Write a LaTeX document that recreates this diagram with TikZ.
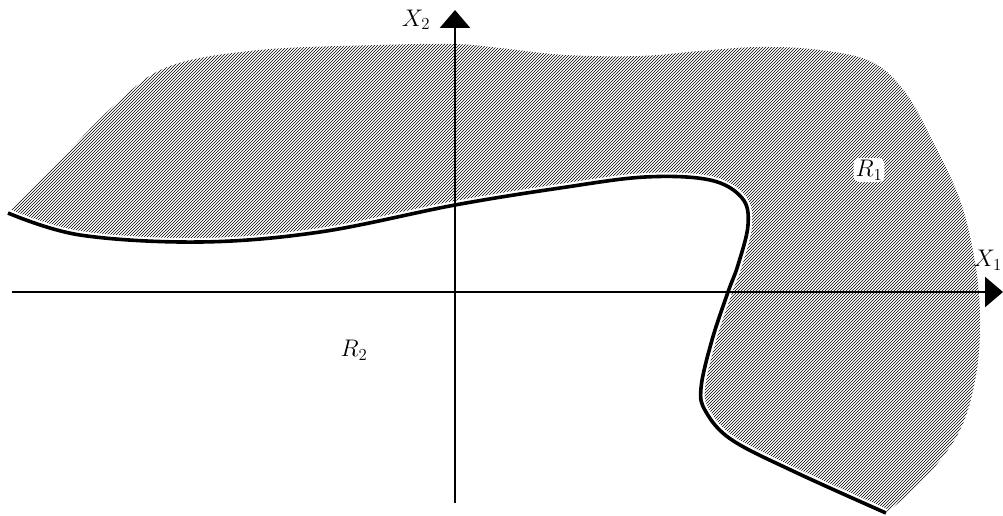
\documentclass[tikz,border=0pt]{standalone}
\usepackage{fix-cm}
\usetikzlibrary{patterns,arrows.meta}
\begin{document}
\begin{tikzpicture}[x=1pt,y=-1pt,
  axis/.style={line width=2.8pt,-{Triangle[length=18pt,width=30pt]}},
  boundary/.style={line width=3.6pt,black},
  gap/.style={line width=8pt,white},
  lab/.style={font=\fontsize{24}{28}\selectfont}]
\useasboundingbox (0,0) rectangle (1003,516);
% hatched region R1
\fill[pattern=north east lines,pattern color=black]
  plot[smooth,tension=0.6] coordinates {(8,213) (80,235) (200,242) (320,232) (455,205) (560,188) (645,177) (710,180) (742,198) (748,225) (738,265) (728,292) (712,340) (701,388) (706,412) (732,440) (795,472) (886,513)}
  -- plot[smooth,tension=0.6] coordinates {(886,513) (925,478) (960,430) (976,375) (980,318) (975,262) (960,200) (932,140) (905,92) (872,62) (820,50) (760,47) (700,51) (640,56) (565,55) (500,48) (455,44) (380,45) (260,50) (170,66) (118,102) (60,160) (8,212)}
  -- cycle;
% separating curve
\draw[gap] plot[smooth,tension=0.6] coordinates {(8,213) (80,235) (200,242) (320,232) (455,205) (560,188) (645,177) (710,180) (742,198) (748,225) (738,265) (728,292) (712,340) (701,388) (706,412) (732,440) (795,472) (886,513)};
\draw[boundary] plot[smooth,tension=0.6] coordinates {(8,213) (80,235) (200,242) (320,232) (455,205) (560,188) (645,177) (710,180) (742,198) (748,225) (738,265) (728,292) (712,340) (701,388) (706,412) (732,440) (795,472) (886,513)};
% axes
\coordinate (xs) at (12,292);
\coordinate (xe) at (1003,292);
\coordinate (ys) at (455,503);
\coordinate (ye) at (455,10);
\draw[axis] (xs) -- (xe);
\draw[axis] (ys) -- (ye);
% labels
\node[lab] (x2) at (416,20) {$X_2$};
\node[lab,anchor=east,inner sep=0pt] (x1) at (1002,260) {$X_1$};
\node[lab,fill=white,rounded corners=6pt,inner sep=2pt] (r1) at (869,170) {$R_1$};
\node[lab] (r2) at (354,350) {$R_2$};
\end{tikzpicture}
\end{document}
